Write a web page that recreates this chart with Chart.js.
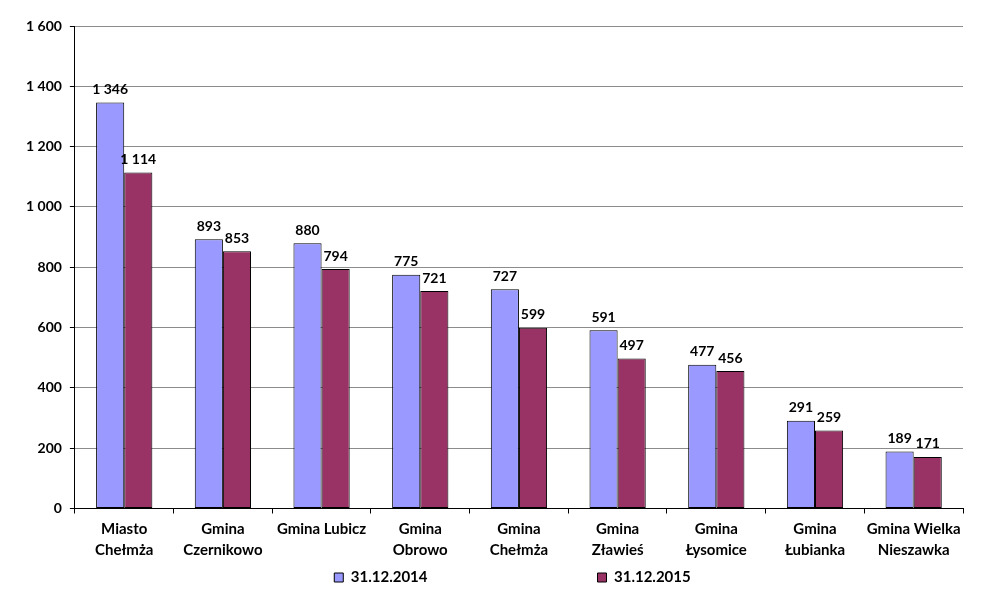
<!DOCTYPE html>
<html lang="pl">
<head>
    <meta charset="UTF-8">
    <title>Ludność gmin</title>
    <script src="https://cdn.jsdelivr.net/npm/chart.js"></script>
    <style>
        body {
            margin: 0;
            padding: 0;
            background-color: #fff;
        }
        .chart-container {
            width: 981px;
            height: 600px;
        }
    </style>
</head>
<body>
    <div class="chart-container">
        <canvas id="chart"></canvas>
    </div>

    <script>
        const categories = [
            ['Miasto', 'Chełmża'],
            ['Gmina', 'Czernikowo'],
            'Gmina Lubicz',
            ['Gmina', 'Obrowo'],
            ['Gmina', 'Chełmża'],
            ['Gmina', 'Zławieś'],
            ['Gmina', 'Łysomice'],
            ['Gmina', 'Łubianka'],
            ['Gmina Wielka', 'Nieszawka']
        ];
        const values2014 = [1346, 893, 880, 775, 727, 591, 477, 291, 189];
        const values2015 = [1114, 853, 794, 721, 599, 497, 456, 259, 171];
        const seriesLabels = ['31.12.2014', '31.12.2015'];

        const fontFamily = 'Lato, "Open Sans", sans-serif';
        const legendGap = 170;

        // thousands with a space, e.g. 1 346
        function fmt(v) {
            return String(v).replace(/\B(?=(\d{3})+(?!\d))/g, ' ');
        }

        // value labels above bars
        const barLabels = {
            id: 'barLabels',
            afterDatasetsDraw(chart) {
                const ctx = chart.ctx;
                ctx.save();
                ctx.font = 'bold 14px ' + fontFamily;
                ctx.fillStyle = '#000';
                ctx.textAlign = 'center';
                ctx.textBaseline = 'bottom';
                chart.data.datasets.forEach((ds, i) => {
                    chart.getDatasetMeta(i).data.forEach((bar, j) => {
                        ctx.fillText(fmt(ds.data[j]), bar.x, bar.y - 6);
                    });
                });
                ctx.restore();
            }
        };

        // the big item gap also pads the legend vertically, so pull it back up,
        // and move it a bit right of the canvas centre like the original
        const legendShift = {
            id: 'legendShift',
            afterLayout(chart) {
                const lg = chart.legend;
                lg.left += 22;
                lg.right += 22;
                lg.top -= legendGap - 4;
            }
        };

        Chart.defaults.font.family = fontFamily;
        Chart.defaults.color = '#000';

        new Chart(document.getElementById('chart'), {
            type: 'bar',
            data: {
                labels: categories,
                datasets: [{
                    label: seriesLabels[0],
                    data: values2014,
                    backgroundColor: '#9999ff',
                    borderColor: '#000',
                    borderWidth: 1,
                    borderSkipped: false,
                    categoryPercentage: 0.57,
                    barPercentage: 1
                }, {
                    label: seriesLabels[1],
                    data: values2015,
                    backgroundColor: '#993366',
                    borderColor: '#000',
                    borderWidth: 1,
                    borderSkipped: false,
                    categoryPercentage: 0.57,
                    barPercentage: 1
                }]
            },
            options: {
                responsive: true,
                maintainAspectRatio: false,
                animation: false,
                layout: { padding: { left: 18, right: 18, top: 26, bottom: 6 } },
                plugins: {
                    legend: {
                        position: 'bottom',
                        maxHeight: 28,
                        labels: {
                            boxWidth: 9,
                            boxHeight: 9,
                            padding: legendGap,
                            font: { size: 15, weight: 'bold' }
                        }
                    },
                    tooltip: { enabled: false }
                },
                scales: {
                    x: {
                        grid: {
                            offset: true,
                            drawOnChartArea: true,
                            color: c => c.index === categories.length ? '#8c8c8c' : 'transparent',
                            tickColor: '#000',
                            tickLength: 5
                        },
                        border: { color: '#000' },
                        ticks: {
                            maxRotation: 0,
                            autoSkip: false,
                            padding: 6,
                            font: { size: 15, weight: 'bold', lineHeight: 1.35 }
                        }
                    },
                    y: {
                        min: 0,
                        max: 1600,
                        grid: {
                            color: c => c.tick.value === 0 ? 'transparent' : '#8c8c8c',
                            tickColor: '#000',
                            tickLength: 5
                        },
                        border: { color: '#000' },
                        ticks: {
                            stepSize: 200,
                            padding: 8,
                            font: { size: 14, weight: 'bold' },
                            callback: v => fmt(v)
                        }
                    }
                }
            },
            plugins: [barLabels, legendShift]
        });
    </script>
</body>
</html>
